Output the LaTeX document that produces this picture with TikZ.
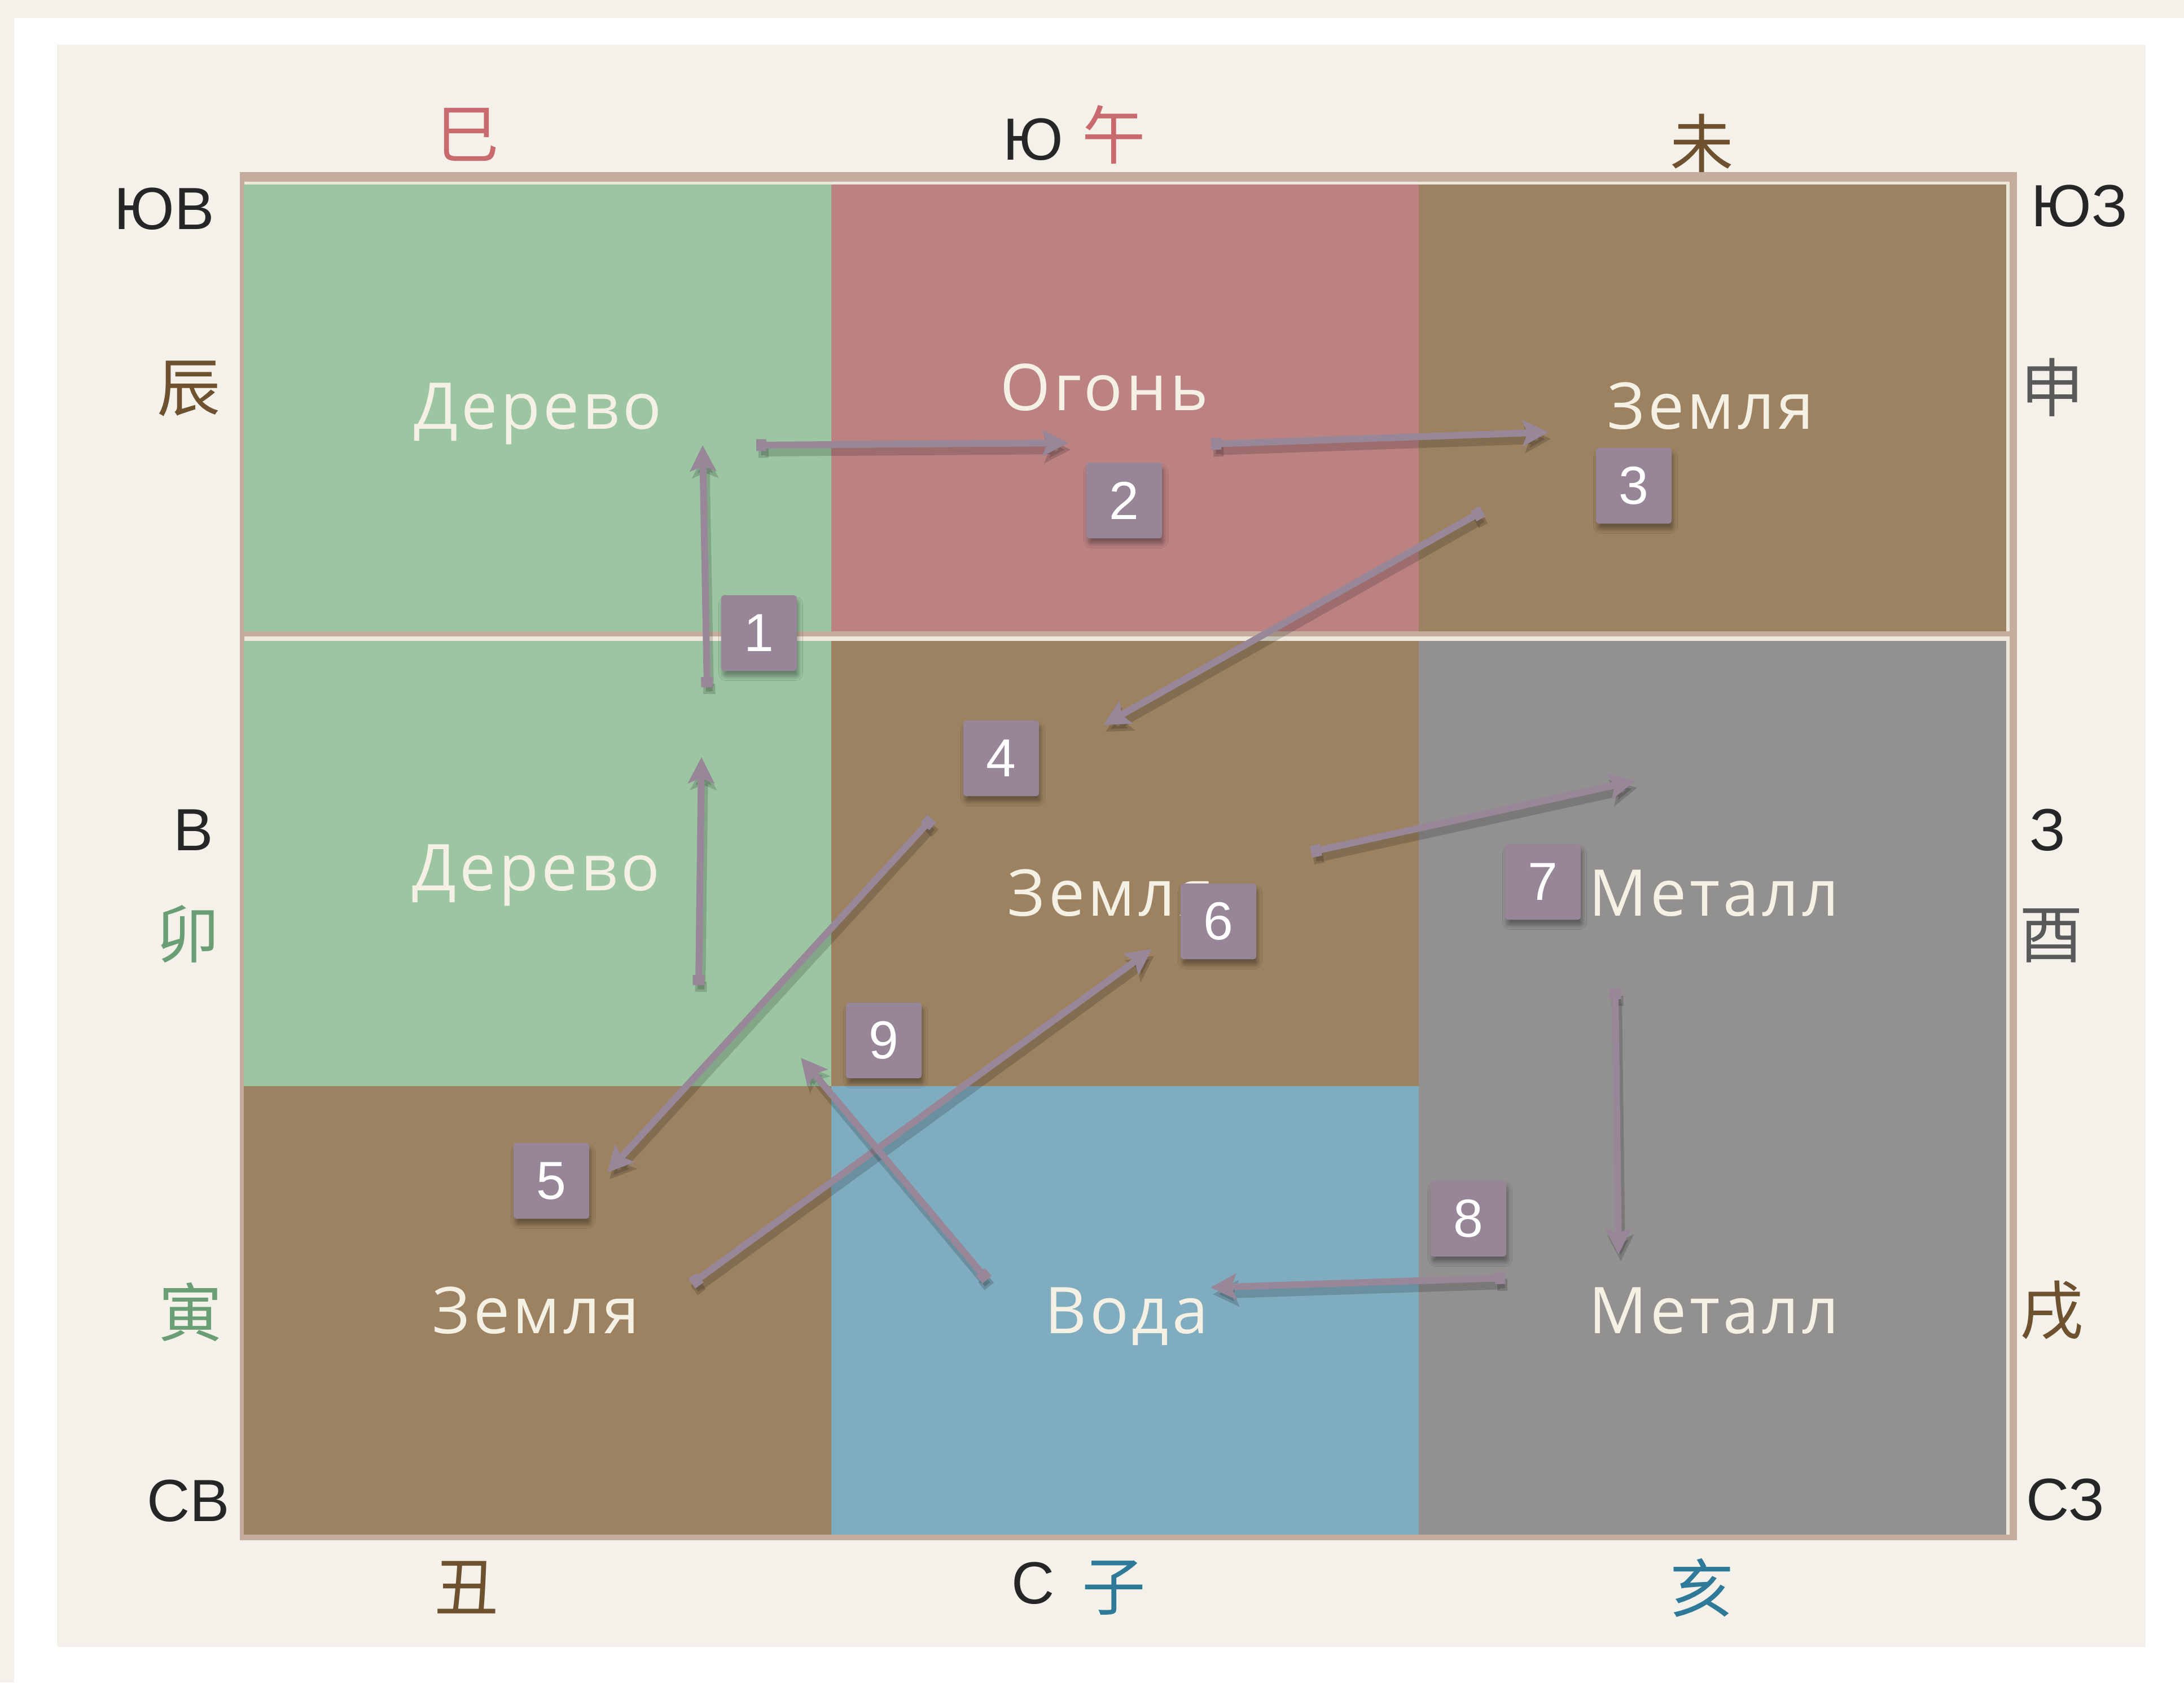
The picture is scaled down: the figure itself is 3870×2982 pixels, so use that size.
\documentclass[tikz,border=0pt]{standalone}
\usepackage{fontspec}
\setmainfont{Liberation Sans}
\newfontfamily\cellfont[LetterSpace=5]{Open Sans}
\newfontfamily\cjk{Noto Sans CJK SC}
\usetikzlibrary{arrows.meta,shadows.blur}
\definecolor{wxpage}{HTML}{F4F1EA}
\definecolor{wxpanel}{HTML}{F4F1EA}
\definecolor{wxframe}{HTML}{C4AD9D}
\definecolor{wxcream}{HTML}{EEE8DC}
\definecolor{wxwood}{HTML}{9CC6A2}
\definecolor{wxfire}{HTML}{BC8282}
\definecolor{wxearth}{HTML}{9C8260}
\definecolor{wxmetal}{HTML}{929190}
\definecolor{wxwater}{HTML}{7FACBF}
\definecolor{wxtext}{HTML}{F5F0E4}
\definecolor{wxbadge}{HTML}{978598}
\definecolor{wxflow}{HTML}{978798}
\definecolor{wxink}{HTML}{262626}
\definecolor{wxred}{HTML}{C96B6E}
\definecolor{wxbrown}{HTML}{6E5230}
\definecolor{wxgreen}{HTML}{6A9F75}
\definecolor{wxgrey}{HTML}{5A5A5A}
\definecolor{wxblue}{HTML}{2F7A99}
\tikzset{
  cell/.style      = {rectangle, inner sep=0pt, minimum width=10.41cm},
  elem/.style      = {anchor=base, inner sep=0pt, text=wxtext,
                      font=\cellfont\fontsize{32.5}{36}\selectfont},
  compass/.style   = {inner sep=0pt, text=wxink, font=\fontsize{30}{34}\selectfont},
  branchlbl/.style = {inner sep=0pt, font=\cjk\fontsize{32}{36}\selectfont},
  badge/.style     = {rectangle, rounded corners=0.5mm, fill=wxbadge, text=white,
                      inner sep=0pt, minimum width=1.34cm, minimum height=1.34cm,
                      font=\fontsize{27}{30}\selectfont,
                      blur shadow={shadow xshift=0.3mm, shadow yshift=-1mm,
                                   shadow blur steps=6, shadow opacity=35}},
  flow/.style      = {{Rectangle[length=1.8mm,width=2.1mm]}-{Stealth[length=4.6mm,width=4.6mm,inset=0.9mm]},
                      line width=1.2mm, draw=wxflow,
                      preaction={draw=black, opacity=0.16, line width=1.6mm,
                                 transform canvas={shift={(0.4mm,-1.2mm)}}}},
}
\begin{document}
\begin{tikzpicture}[x=0.01cm, y=-0.01cm]
\useasboundingbox (0,0) rectangle (3870,2982);

% page, frame and panel
\fill[wxpage] (0,0) rectangle (3870,2982);
\fill[white] (25,32) rectangle (3870,2982);
\fill[wxpanel] (101,79) rectangle (3802,2919);

% grid border
\fill[wxframe] (425,305) rectangle (3574,2730);
\fill[wxcream] (433,322) rectangle (3561,2720);

% cells
\node[cell, fill=wxwood,  minimum height=7.92cm] (wood1)  at (953,723) {};
\node[cell, fill=wxfire,  minimum height=7.92cm] (fire)   at (1994,723) {};
\node[cell, fill=wxearth, minimum height=7.92cm] (earth1) at (3034.5,723) {};
\node[cell, fill=wxwood,  minimum height=7.89cm] (wood2)  at (953,1530.5) {};
\node[cell, fill=wxearth, minimum height=7.89cm] (earth2) at (1994,1530.5) {};
\node[cell, fill=wxmetal, minimum height=7.89cm] (metal1) at (3034.5,1530.5) {};
\node[cell, fill=wxearth, minimum height=7.95cm] (earth3) at (953,2322.5) {};
\node[cell, fill=wxwater, minimum height=7.95cm] (water)  at (1994,2322.5) {};
\node[cell, fill=wxmetal, minimum height=7.95cm] (metal2) at (3034.5,2322.5) {};
\fill[wxframe] (433,1119) rectangle (3561,1128);

% element names
\node[elem] (wood1txt)  at (953,760)   {Дерево};
\node[elem] (firetxt)   at (1957,727)  {Огонь};
\node[elem] (earth1txt) at (3031,760)  {Земля};
\node[elem] (wood2txt)  at (950,1578)  {Дерево};
\node[elem] (earth2txt) at (1969,1623) {Земля};
\node[elem] (metal1txt) at (3037,1623) {Металл};
\node[elem] (earth3txt) at (950,2363)  {Земля};
\node[elem] (watertxt)  at (1996,2363) {Вода};
\node[elem] (metal2txt) at (3037,2363) {Металл};

% directions and branches
\node[branchlbl, text=wxred]   (si)    at (829,239)   {巳};
\node[compass]                 (south) at (1831,247)  {Ю};
\node[branchlbl, text=wxred]   (wu)    at (1974,239)  {午};
\node[branchlbl, text=wxbrown] (wei)   at (3016,254)  {未};
\node[compass]                 (se)    at (291,370)   {ЮВ};
\node[compass]                 (sw)    at (3685,365)  {ЮЗ};
\node[branchlbl, text=wxbrown] (chen)  at (335,689)   {辰};
\node[branchlbl, text=wxgrey]  (shen)  at (3637,687)  {申};
\node[compass]                 (east)  at (343,1471)  {В};
\node[branchlbl, text=wxgreen] (mao)   at (333,1656)  {卯};
\node[compass]                 (west)  at (3628,1471) {З};
\node[branchlbl, text=wxgrey]  (you)   at (3635,1658) {酉};
\node[branchlbl, text=wxgreen] (yin)   at (338,2326)  {寅};
\node[branchlbl, text=wxbrown] (xu)    at (3636,2323) {戌};
\node[compass]                 (ne)    at (334,2660)  {СВ};
\node[compass]                 (nw)    at (3660,2658) {СЗ};
\node[branchlbl, text=wxbrown] (chou)  at (827,2814)  {丑};
\node[compass]                 (north) at (1831,2806) {С};
\node[branchlbl, text=wxblue]  (zi)    at (1974,2814) {子};
\node[branchlbl, text=wxblue]  (hai)   at (3016,2814) {亥};

% arrow ends
\coordinate (t1lo) at (1238,1746); \coordinate (h1lo) at (1243,1342);
\coordinate (t1up) at (1253,1218); \coordinate (h1up) at (1245,789);
\coordinate (t2) at (1340,789);    \coordinate (h2) at (1893,785);
\coordinate (t3) at (2146,787);    \coordinate (h3) at (2744,766);
\coordinate (t4) at (2627,906);    \coordinate (h4) at (1955,1285);
\coordinate (t5) at (1651,1451);   \coordinate (h5) at (1076,2078);
\coordinate (t6) at (1226,2275);   \coordinate (h6) at (2041,1682);
\coordinate (t7) at (2323,1510);   \coordinate (h7) at (2897,1384);
\coordinate (t8v) at (2862,1753);  \coordinate (h8v) at (2868,2223);
\coordinate (t8h) at (2667,2265);  \coordinate (h8h) at (2145,2282);
\coordinate (t9) at (1749,2268);   \coordinate (h9) at (1419,1875);

\draw[flow] (t1lo) -- (h1lo);
\draw[flow] (t1up) -- (h1up);
\draw[flow] (t2) -- (h2);
\draw[flow] (t3) -- (h3);
\draw[flow] (t4) -- (h4);
\draw[flow] (t5) -- (h5);
\draw[flow] (t6) -- (h6);
\draw[flow] (t7) -- (h7);
\draw[flow] (t8v) -- (h8v);
\draw[flow] (t8h) -- (h8h);
\draw[flow] (t9) -- (h9);

% step numbers
\node[badge] (n1) at (1345,1122) {1};
\node[badge] (n2) at (1992,887)  {2};
\node[badge] (n3) at (2895,861)  {3};
\node[badge] (n4) at (1774,1344) {4};
\node[badge] (n5) at (977,2093)  {5};
\node[badge] (n6) at (2159,1633) {6};
\node[badge] (n7) at (2734,1563) {7};
\node[badge] (n8) at (2602,2160) {8};
\node[badge] (n9) at (1566,1844) {9};

\end{tikzpicture}
\end{document}
